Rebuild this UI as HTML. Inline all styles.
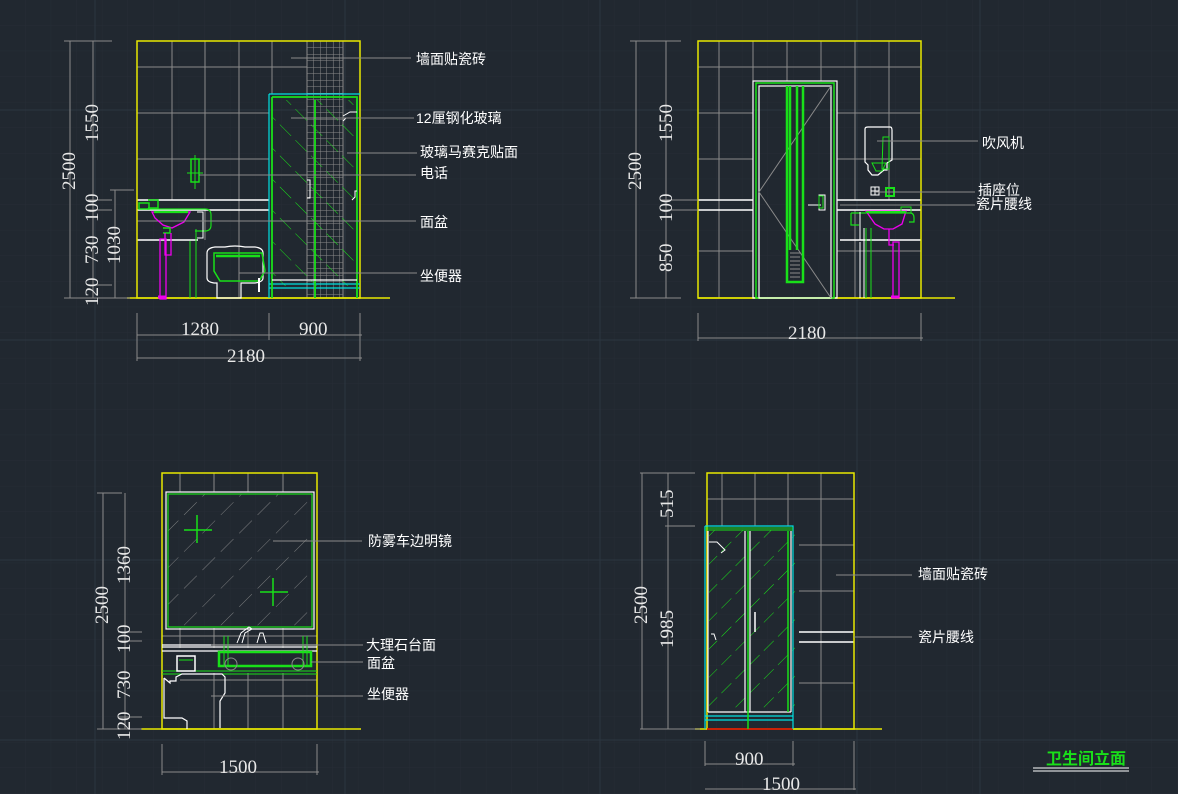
<!DOCTYPE html>
<html><head><meta charset="utf-8"><style>
html,body{margin:0;padding:0;background:#212830;}
svg{display:block}
text{font-family:"Liberation Sans","Noto Sans CJK SC",sans-serif;fill:#fff;}
.cn{font-size:14px}
.dim{font-family:"Liberation Serif","Noto Serif CJK SC",serif;font-size:19px;fill:#e8e8e8}
</style></head><body>
<svg width="1178" height="794" viewBox="0 0 1178 794" xmlns="http://www.w3.org/2000/svg">
<defs>
<pattern id="grid" width="25.6" height="25.6" patternUnits="userSpaceOnUse"><path d="M25.6 0V25.6H0" fill="none" stroke="#262d36" stroke-width="1"/></pattern>
<pattern id="mosaic" x="307" y="41" width="6.5" height="6.5" patternUnits="userSpaceOnUse"><path d="M0 0V6.5M0 0H6.5" stroke="#8a8a8a" stroke-width="1" fill="none"/></pattern>
<pattern id="hatchA" width="22" height="22" patternUnits="userSpaceOnUse" patternTransform="rotate(45)"><path d="M0 0H16" stroke="#19e019" stroke-width="1"/></pattern>
<pattern id="hatchB" width="20" height="20" patternUnits="userSpaceOnUse" patternTransform="rotate(-45)"><path d="M0 0H14" stroke="#19e019" stroke-width="1"/></pattern>
<pattern id="hatchM" width="26" height="26" patternUnits="userSpaceOnUse" patternTransform="rotate(-45)"><path d="M0 0H18" stroke="#9a9a9a" stroke-width="0.8"/></pattern>
</defs>
<rect width="1178" height="794" fill="#212830"/>
<rect width="1178" height="794" fill="url(#grid)"/>
<g stroke="#2c3640" stroke-width="1"><path d="M0 110H1178M0 340H1178M0 560H1178M0 740H1178M95 0V794M345 0V794M600 0V794M857 0V794M980 0V794"/></g>

<!-- ========== PANEL 1 ========== -->
<g fill="none">
<g stroke="#8a8a8a" stroke-width="1">
<path d="M172 41V200M205 41V200M239 41V298M272 41V94M137 67H307M137 113H269M137 159H269M137 221H269"/>
<path d="M205 210V240"/>
</g>
<rect x="307" y="41" width="36" height="257" fill="url(#mosaic)" stroke="#8a8a8a"/>
<path d="M137 200H269M137 210H269M137 240H198" stroke="#fff" stroke-width="1.5"/>
<rect x="137" y="41" width="223" height="257" stroke="#e8e800" stroke-width="1.5"/>
<path d="M127 298H390" stroke="#e8e800" stroke-width="1.5"/>
<rect x="272" y="100" width="85" height="186" fill="url(#hatchA)"/>
<path d="M269 94H360M269 94V298M269 284H360M269 288H360" stroke="#00e0e0" stroke-width="1.2"/>
<path d="M272 97H357V298M272 97V298M315 100V298" stroke="#19e019" stroke-width="1.8"/>
<path d="M272 280H357" stroke="#fff" stroke-width="1.2"/>
<path d="M343 116L350 112H357M346 118l-3 3M352 200l3-3v-6h2" stroke="#fff"/>
<path d="M307 180h3v18h-3" stroke="#fff"/>
<rect x="191" y="159" width="8" height="23" stroke="#19e019" stroke-width="1.5"/>
<path d="M195 155V189M187 173H203" stroke="#19e019"/>
<path d="M139 203h10v6h-10zM148 200h10v8h-10" stroke="#19e019" stroke-width="1.5"/>
<path d="M147 209H205q6 0 6 6v10q0 6-6 6h-10" stroke="#19e019" stroke-width="1.2"/>
<path d="M152 212H190L184 222L172 228L163 225L155 218Z" stroke="#ee00ee" stroke-width="1.3"/>
<path d="M154 212H188" stroke="#19e019" stroke-width="2.2"/>
<path d="M163 228H170V233H163" stroke="#19e019" stroke-width="1.5"/>
<path d="M160 239h6v60h-6zM165 233v22h6v-22" stroke="#ee00ee" stroke-width="1.3"/>
<path d="M158 297h8" stroke="#ee00ee" stroke-width="3"/>
<path d="M190 241V298M196 229V298" stroke="#19e019"/>
<path d="M197 212h6v26h-6" stroke="#fff"/>
<path d="M207 253q0-5 8-6h10q10-2 20 0h10q8 1 8 6v25q0 4-8 5h-14v15H217v-15h-3q-7-1-7-5z" stroke="#fff" stroke-width="1.2"/>
<path d="M214 253H262l3 18-6 10H220l-6-10z" stroke="#19e019" stroke-width="1.5"/>
<path d="M216 256H260" stroke="#19e019" stroke-width="2.5"/>
<path d="M259 278v14" stroke="#fff" stroke-width="2"/>
<g stroke="#8a8a8a">
<path d="M291 58H411M291 118H414M347 153H417M199 175H416M173 221H416M239 273H417"/>
</g>
<g stroke="#8a8a8a" stroke-width="1">
<path d="M70 41V298M93 41V298M115 190V298M64 41H112M88 41H112M88 200H112M88 210H112M88 285H112M64 298H130M110 190H134"/>
<path d="M137 313V361M269 313V340M360 313V361M137 335H362M137 358H362"/>
</g>
</g>
<text class="cn" x="416" y="64">墙面贴瓷砖</text>
<text class="cn" x="416" y="123">12厘钢化玻璃</text>
<text class="cn" x="420" y="157">玻璃马赛克贴面</text>
<text class="cn" x="420" y="178">电话</text>
<text class="cn" x="420" y="227">面盆</text>
<text class="cn" x="420" y="281">坐便器</text>
<text class="dim" transform="translate(75 190) rotate(-90)">2500</text>
<text class="dim" transform="translate(98 142) rotate(-90)">1550</text>
<text class="dim" transform="translate(98 222) rotate(-90)">100</text>
<text class="dim" transform="translate(98 264) rotate(-90)">730</text>
<text class="dim" transform="translate(98 306) rotate(-90)">120</text>
<text class="dim" transform="translate(120 264) rotate(-90)">1030</text>
<text class="dim" x="181" y="335">1280</text>
<text class="dim" x="299" y="335">900</text>
<text class="dim" x="227" y="362">2180</text>

<!-- ========== PANEL 2 ========== -->
<g fill="none">
<g stroke="#8a8a8a">
<path d="M719 41V298M753 41V81M787 41V81M821 41V81M855 41V200M889 41V200M698 67H921M698 113H753M837 113H921M698 159H753M837 159H921M698 251H753M837 251H921M855 210V298"/>
</g>
<path d="M698 200H753M698 210H753M837 200H921M837 210H921M840 240H921" stroke="#fff" stroke-width="1.5"/>
<rect x="698" y="41" width="223" height="257" stroke="#e8e800" stroke-width="1.5"/>
<path d="M698 298H955" stroke="#e8e800" stroke-width="1.5"/>
<rect x="753" y="81" width="84" height="217" stroke="#fff" stroke-width="1.2"/>
<rect x="756" y="83" width="78" height="215" stroke="#19e019" stroke-width="1.5"/>
<rect x="759" y="86" width="72" height="212" stroke="#fff" stroke-width="1.2"/>
<path d="M831 86L759 192L831 298" stroke="#8a8a8a"/>
<path d="M787 86V282H803V86M790 86V250M797 86V250" stroke="#19e019" stroke-width="2.5"/>
<path d="M790 253H800M790 257H800M790 261H800M790 265H800M790 269H800M790 273H800M790 277H800" stroke="#8a8a8a"/>
<path d="M819 195h6v15h-6zM808 205h13" stroke="#fff"/>
<rect x="819" y="196" width="4" height="12" stroke="#19e019"/>
<path d="M868 127h22q2 0 2 3v30l-5 3v7h-3l-6 5h-6l-4-5v-5l-3-3v-33q0-2 3-2z" stroke="#fff" stroke-width="1.2"/>
<path d="M883 137h6v32h-7zM872 163h14l-4 8h-6z" stroke="#19e019"/>
<rect x="871" y="187" width="8" height="8" stroke="#fff"/><path d="M875 187v8M871 191h8" stroke="#fff"/>
<rect x="886" y="188" width="8" height="8" stroke="#19e019" stroke-width="2"/>
<path d="M851 213H910q4 0 4 5v4h-5M851 213v12h8" stroke="#19e019" stroke-width="1.2"/>
<path d="M866 211H906L902 224L893 229L884 229L875 224Z" stroke="#ee00ee" stroke-width="1.3"/>
<path d="M866 212H906" stroke="#19e019" stroke-width="2"/>
<path d="M901 207h10v6h-10z" stroke="#19e019"/>
<path d="M893 242h6v56h-6zM889 229v16h5" stroke="#ee00ee" stroke-width="1.3"/>
<path d="M891 297h8" stroke="#ee00ee" stroke-width="3"/>
<path d="M860 212V240M860 242V298M864 228V298" stroke="#fff"/>
<path d="M866 228V298M871 228V298" stroke="#19e019"/>
<g stroke="#8a8a8a">
<path d="M877 141H978M876 192H975M840 205H975"/>
<path d="M636 41V298M666 41V298M630 41H681M660 200H698M660 210H698M630 298H681M698 313V341M921 313V341M698 338H923"/>
</g>
</g>
<text class="cn" x="982" y="148">吹风机</text>
<text class="cn" x="978" y="195">插座位</text>
<text class="cn" x="976" y="209">瓷片腰线</text>
<text class="dim" transform="translate(641 190) rotate(-90)">2500</text>
<text class="dim" transform="translate(672 142) rotate(-90)">1550</text>
<text class="dim" transform="translate(672 222) rotate(-90)">100</text>
<text class="dim" transform="translate(672 272) rotate(-90)">850</text>
<text class="dim" x="788" y="339">2180</text>

<!-- ========== PANEL 3 ========== -->
<g fill="none">
<g stroke="#8a8a8a">
<path d="M180 473V492M214 473V492M248 473V492M283 473V492M180 628V648M214 628V648M248 628V648M283 628V648M162 636H317M214 673V729M248 673V729M283 673V729M180 680H317"/>
</g>
<rect x="162" y="473" width="155" height="256" stroke="#e8e800" stroke-width="1.5"/>
<path d="M141 729H361" stroke="#e8e800" stroke-width="1.5"/>
<rect x="166" y="492" width="148" height="137" stroke="#fff" stroke-width="1.2"/>
<rect x="168" y="494" width="144" height="133" fill="url(#hatchM)" stroke="#19e019" stroke-width="1.2"/>
<path d="M197 515V543M184 530H212M273 578V606M260 592H288" stroke="#19e019" stroke-width="1.5"/>
<path d="M162 645H317M162 647H317M162 651H317" stroke="#fff" stroke-width="1.2"/>
<path d="M162 671H317M162 674H317" stroke="#19e019"/>
<rect x="219" y="652" width="92" height="14" stroke="#19e019" stroke-width="2.5"/>
<path d="M224 636v30M228 636v30M303 636v30M307 636v30" stroke="#19e019"/>
<circle cx="231" cy="664" r="6" stroke="#8a8a8a"/><circle cx="298" cy="664" r="6" stroke="#8a8a8a"/>
<path d="M237 643l4-10 8-6 3 2-7 4-3 10M257 643l3-10h3l3 10" stroke="#fff"/>
<rect x="177" y="656" width="18" height="15" stroke="#fff" stroke-width="1.5"/><path d="M179 660H193" stroke="#19e019"/>
<path d="M164 678l6 5v-2h6v-4l6-3h40l3 3v16l-5 8v27M164 678v40h18l5 3v8" stroke="#fff" stroke-width="1.2"/>
<g stroke="#8a8a8a">
<path d="M273 541H362M211 645H363M311 662H363M211 696H363"/>
<path d="M103 493V729M125 493V729M97 493H122M118 632H142M118 641H142M118 717H142M97 729H142M162 744V775M317 744V775M162 772H319"/>
</g>
</g>
<text class="cn" x="368" y="546">防雾车边明镜</text>
<text class="cn" x="366" y="650">大理石台面</text>
<text class="cn" x="367" y="668">面盆</text>
<text class="cn" x="367" y="699">坐便器</text>
<text class="dim" transform="translate(108 624) rotate(-90)">2500</text>
<text class="dim" transform="translate(130 584) rotate(-90)">1360</text>
<text class="dim" transform="translate(130 653) rotate(-90)">100</text>
<text class="dim" transform="translate(130 699) rotate(-90)">730</text>
<text class="dim" transform="translate(130 740) rotate(-90)">120</text>
<text class="dim" x="219" y="773">1500</text>

<!-- ========== PANEL 4 ========== -->
<g fill="none">
<g stroke="#8a8a8a">
<path d="M722 473V526M755 473V526M788 473V526M821 473V729M707 499H854M799 545H854M799 591H854M799 683H854"/>
</g>
<path d="M799 632H854M799 642H854" stroke="#fff" stroke-width="1.5"/>
<rect x="707" y="473" width="147" height="256" stroke="#e8e800" stroke-width="1.5"/>
<path d="M695 729H707M793 729H882" stroke="#e8e800" stroke-width="1.5"/>
<path d="M707 729H793" stroke="#e00000" stroke-width="1.5"/>
<rect x="709" y="530" width="86" height="182" fill="url(#hatchB)"/>
<path d="M705 526H793V729M705 526V729M705 716H793M705 720H793" stroke="#00e0e0" stroke-width="1.2"/>
<path d="M705 528H793M705 530H793" stroke="#19e019"/>
<path d="M708 531V712M745 531V712M750 531V712M791 531V712M708 712H791" stroke="#fff" stroke-width="1.2"/>
<path d="M748 531V729M788 531V712" stroke="#19e019" stroke-width="1.5"/>
<path d="M709 542h8l8 8-4 3M711 634h3l2 6" stroke="#fff"/>
<path d="M755 612v20" stroke="#fff" stroke-width="1.5"/>
<g stroke="#8a8a8a">
<path d="M836 575H912M854 637H912"/>
<path d="M642 473V729M668 473V729M640 473H695M665 526H695M640 729H700M705 741V766M793 741V766M854 741V790M705 764H795M705 789H856"/>
</g>
<path d="M1033 768H1129M1033 771H1129" stroke="#fff"/>
</g>
<text class="cn" x="918" y="579">墙面贴瓷砖</text>
<text class="cn" x="918" y="642">瓷片腰线</text>
<text class="dim" transform="translate(647 624) rotate(-90)">2500</text>
<text class="dim" transform="translate(673 518) rotate(-90)">515</text>
<text class="dim" transform="translate(673 648) rotate(-90)">1985</text>
<text class="dim" x="735" y="765">900</text>
<text class="dim" x="762" y="790">1500</text>
<text x="1046" y="764" style="font-size:16px;font-weight:bold;fill:#19e019;font-family:'Liberation Sans','Noto Sans CJK SC',sans-serif">卫生间立面</text>
</svg>
</body></html>
